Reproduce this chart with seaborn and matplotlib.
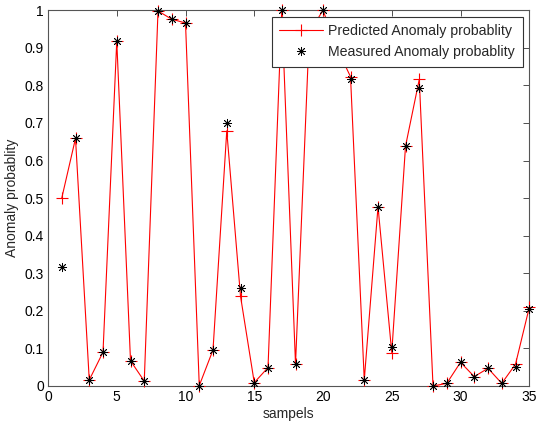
import numpy as np
import pandas as pd
import matplotlib
matplotlib.use("Agg")
import matplotlib.pyplot as plt
import seaborn as sns

samples = list(range(1, 36))
predicted = [0.500, 0.659, 0.016, 0.090, 0.918, 0.067, 0.013, 0.998, 0.976, 0.966,
             0.001, 0.096, 0.679, 0.239, 0.009, 0.049, 1.000, 0.058, 0.940, 1.000,
             0.900, 0.823, 0.016, 0.477, 0.089, 0.638, 0.816, 0.000, 0.007, 0.063,
             0.025, 0.047, 0.007, 0.058, 0.209]
measured = [0.317, 0.659, 0.016, 0.090, 0.918, 0.067, 0.013, 0.998, 0.976, 0.966,
            0.001, 0.096, 0.701, 0.260, 0.009, 0.049, 1.000, 0.058, 0.940, 1.000,
            0.900, 0.816, 0.016, 0.477, 0.105, 0.638, 0.794, 0.000, 0.007, 0.063,
            0.025, 0.047, 0.007, 0.051, 0.204]

df = pd.DataFrame({'sample': samples, 'predicted': predicted, 'measured': measured})

sns.set_style('white')
plt.rcParams['font.family'] = ['Liberation Sans', 'DejaVu Sans']

fig = plt.figure(figsize=(5.37, 4.25), dpi=100)
ax = fig.add_axes([0.0894, 0.0918, 0.8962, 0.8842])

sns.lineplot(data=df, x='sample', y='predicted', ax=ax, color='red', linewidth=0.8,
             marker='+', markersize=9, markeredgewidth=0.8, markeredgecolor='red',
             clip_on=False, zorder=3, label='Predicted Anomaly probablity')
sns.lineplot(data=df, x='sample', y='measured', ax=ax, color='black', linestyle='',
             marker=(8, 2, 0), markersize=6.5, markeredgewidth=0.6, markeredgecolor='black',
             clip_on=False, zorder=4, label='Measured Anomaly probablity')

ax.set_xlim(0, 35)
ax.set_ylim(0, 1)
ax.set_xticks(range(0, 36, 5))
ax.set_yticks(np.arange(0, 1.01, 0.1))
ax.set_yticklabels(['0', '0.1', '0.2', '0.3', '0.4', '0.5', '0.6', '0.7', '0.8', '0.9', '1'])
ax.tick_params(direction='in', top=True, right=True, length=4, width=0.6,
               colors='#333333', labelsize=10, labelcolor='black', pad=3)
for s in ax.spines.values():
    s.set_color('#555555')
    s.set_linewidth(0.8)

ax.set_xlabel('sampels', fontsize=10, labelpad=2)
ax.set_ylabel('Anomaly probablity', fontsize=10, labelpad=4)

leg = ax.legend(loc='upper right', fontsize=10.2, numpoints=1, fancybox=False,
                framealpha=1, edgecolor='#333333', borderaxespad=0.45,
                handlelength=3.1, handletextpad=0.35, borderpad=0.55, labelspacing=0.45)
leg.get_frame().set_linewidth(0.8)
leg.set_zorder(10)

fig.savefig('out.png', dpi=100)
